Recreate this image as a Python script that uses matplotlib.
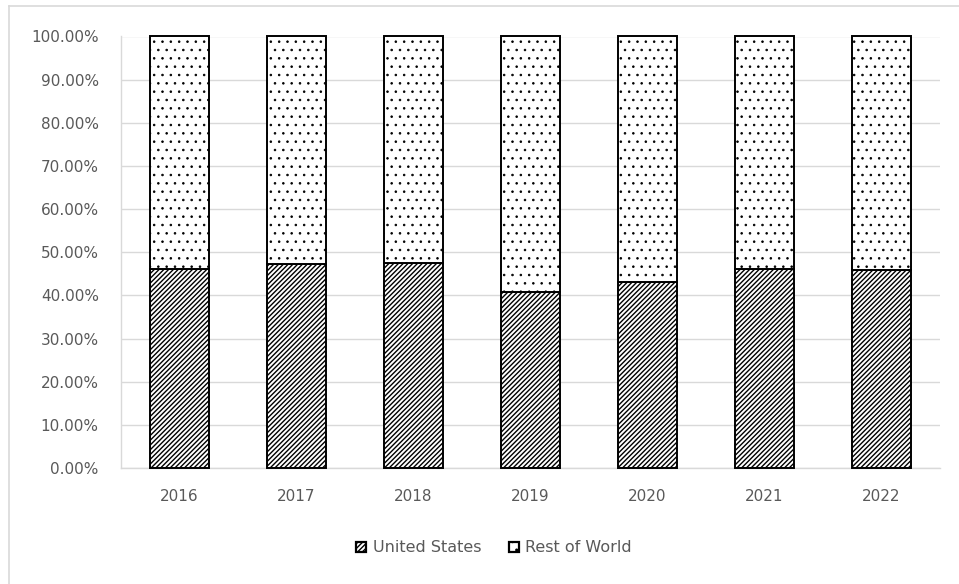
import matplotlib
matplotlib.use("Agg")
import matplotlib.pyplot as plt
from matplotlib.ticker import FuncFormatter, MultipleLocator
from matplotlib.lines import Line2D
import numpy as np

years = ["2016", "2017", "2018", "2019", "2020", "2021", "2022"]
us_share = [46.2, 47.3, 47.6, 40.8, 43.1, 46.2, 45.8]
row_share = [100 - v for v in us_share]
series_names = ["United States", "Rest of World"]

W, H, DPI = 959, 584, 100
plt.rcParams["font.family"] = ["DejaVu Sans"]
plt.rcParams["hatch.linewidth"] = 1.0
fig = plt.figure(figsize=(W / DPI, H / DPI), dpi=DPI)

# light frame around the chart area
fig.add_artist(Line2D([9 / W, 9 / W], [0, 1 - 6 / H], color="#d9d9d9", lw=1.2, transform=fig.transFigure))
fig.add_artist(Line2D([9 / W, 1], [1 - 6 / H, 1 - 6 / H], color="#d9d9d9", lw=1.2, transform=fig.transFigure))

left, right = 121 / W, 940 / W
bottom, top = 1 - 468 / H, 1 - 36.5 / H
ax = fig.add_axes([left, bottom, right - left, top - bottom])

x = np.arange(len(years))
us_bars = ax.bar(x, us_share, width=0.5, color="white", edgecolor="black", hatch="///////",
                 linewidth=1.4, label=series_names[0], zorder=3, clip_on=False)
row_bars = ax.bar(x, row_share, bottom=us_share, width=0.5, color="white", edgecolor="black",
                  hatch="..", linewidth=1.4, label=series_names[1], zorder=3, clip_on=False)
for b in row_bars:
    if hasattr(b, "set_hatch_linewidth"):
        b.set_hatch_linewidth(0.6)

ax.set_xlim(-0.5, len(years) - 0.5)
ax.set_ylim(0, 100)
ax.yaxis.set_major_locator(MultipleLocator(10))
ax.yaxis.set_major_formatter(FuncFormatter(lambda v, p: f"{v:.2f}%"))
ax.set_xticks(x)
ax.set_xticklabels(years)
ax.grid(axis="y", color="#d9d9d9", linewidth=1.0, zorder=0)
for s in ["top", "right"]:
    ax.spines[s].set_visible(False)
for s in ["left", "bottom"]:
    ax.spines[s].set_color("#d9d9d9")
    ax.spines[s].set_linewidth(1.0)
ax.tick_params(axis="both", length=0, labelsize=11, colors="#595959")
ax.tick_params(axis="y", pad=16)
ax.tick_params(axis="x", pad=15)

leg = fig.legend(loc="center", bbox_to_anchor=(494 / W, 1 - 548 / H), ncol=2, frameon=False,
                 fontsize=11.5, handlelength=0.65, handleheight=0.65, columnspacing=1.7,
                 handletextpad=0.4)
for t in leg.get_texts():
    t.set_color("#595959")
for h in leg.legend_handles:
    h.set_linewidth(1.6)
    if hasattr(h, "set_hatch_linewidth"):
        h.set_hatch_linewidth(1.0)

fig.savefig("out.png", dpi=DPI)
